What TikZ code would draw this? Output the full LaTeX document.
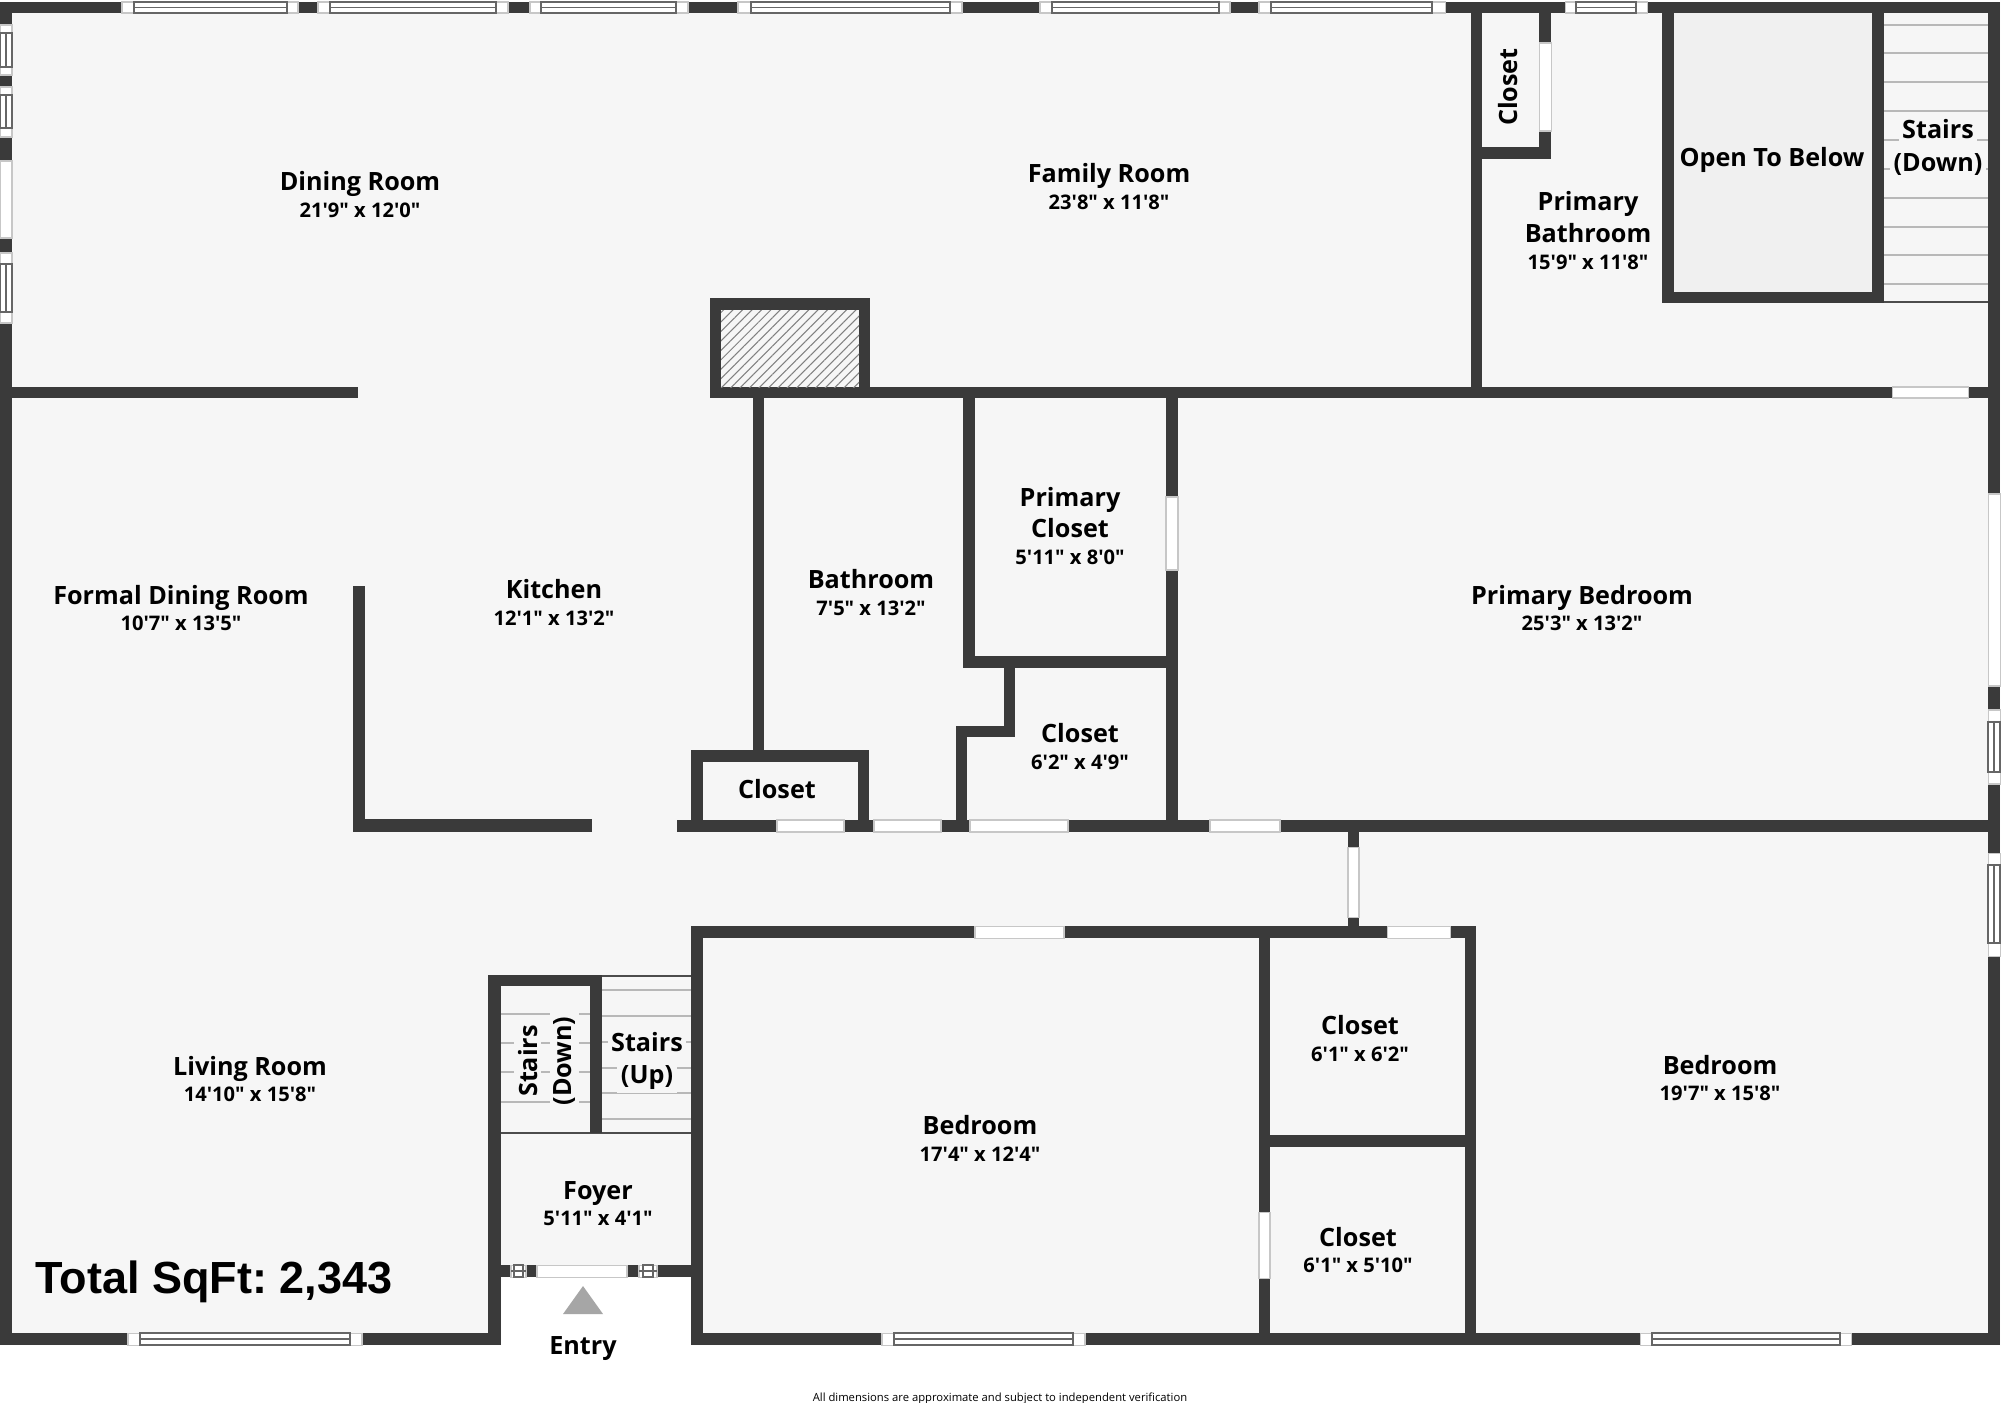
\documentclass[tikz,border=0pt]{standalone}
\usepackage{fontspec}
\newfontfamily\labelfont{Open Sans}
\newfontfamily\totalfont{Liberation Sans}
\usetikzlibrary{patterns.meta}
\definecolor{wallgray}{HTML}{3A3A3A}
\definecolor{floorgray}{HTML}{F6F6F6}
\definecolor{voidgray}{HTML}{F0F0F0}
\definecolor{treadgray}{HTML}{B8B8B8}
\tikzset{
  wall/.style={fill=wallgray},
  opening/.style={fill=white, draw=black!22, line width=0.3pt},
  sash/.style={draw=black!60, line width=0.4pt},
  tread/.style={draw=treadgray, line width=0.45pt},
  roomname/.style={anchor=base, inner sep=0pt, font=\labelfont\bfseries\fontsize{7.16}{9}\selectfont},
  roomsize/.style={anchor=base, inner sep=0pt, font=\labelfont\bfseries\fontsize{5.72}{7}\selectfont},
  stairname/.style={roomname, fill=floorgray, inner sep=1pt}
}
\begin{document}
\begin{tikzpicture}[x=0.01cm, y=-0.01cm]
\useasboundingbox (0,0) rectangle (2001,1402);
\fill[white] (0,0) rectangle (2001,1402);
\fill[floorgray] (0,2) -- (2000,2) -- (2000,1345) -- (691,1345) -- (691,1277) -- (501,1277) -- (501,1345) -- (0,1345) -- cycle;
\fill[voidgray] (1674,13) rectangle (1872,292);
\draw[tread] (1884,25) -- (1988,25);
\draw[tread] (1884,53) -- (1988,53);
\draw[tread] (1884,82) -- (1988,82);
\draw[tread] (1884,111) -- (1988,111);
\draw[tread] (1884,140) -- (1988,140);
\draw[tread] (1884,169) -- (1988,169);
\draw[tread] (1884,198) -- (1988,198);
\draw[tread] (1884,227) -- (1988,227);
\draw[tread] (1884,255) -- (1988,255);
\draw[tread] (1884,284) -- (1988,284);
\draw[draw=black!70, line width=0.4pt] (1884,302) -- (1988,302);
\draw[tread] (501,1014) -- (590,1014);
\draw[tread] (501,1043) -- (590,1043);
\draw[tread] (501,1072) -- (590,1072);
\draw[tread] (501,1102) -- (590,1102);
\draw[tread] (602,990) -- (691,990);
\draw[tread] (602,1016) -- (691,1016);
\draw[tread] (602,1042) -- (691,1042);
\draw[tread] (602,1068) -- (691,1068);
\draw[tread] (602,1093) -- (691,1093);
\draw[tread] (602,1119) -- (691,1119);
\draw[draw=black!70, line width=0.4pt] (602,976) -- (691,976);
\draw[draw=black!70, line width=0.6pt] (501,1133) -- (691,1133);
\fill[wall] (0,2) rectangle (2000,13);
\fill[wall] (0,2) rectangle (12,1345);
\fill[wall] (1988,2) rectangle (2000,1345);
\fill[wall] (0,1333) rectangle (501,1345);
\fill[wall] (691,1333) rectangle (2000,1345);
\fill[wall] (12,387) rectangle (358,398);
\fill[wall] (710,387) rectangle (2000,398);
\fill[wall] (710,298) rectangle (870,398);
\fill[floorgray] (721,310) rectangle (859,387);
\fill[pattern={Lines[angle=45, distance=1.9pt, line width=0.3pt]}, pattern color=black!50] (721,310) rectangle (859,387);
\fill[wall] (353,586) rectangle (365,832);
\fill[wall] (353,819) rectangle (592,832);
\fill[wall] (677,820) rectangle (2000,832);
\fill[wall] (753,398) rectangle (764,750);
\fill[wall] (691,750) rectangle (869,762);
\fill[wall] (691,750) rectangle (703,832);
\fill[wall] (858,750) rectangle (869,832);
\fill[wall] (963,398) rectangle (975,668);
\fill[wall] (963,656) rectangle (1178,668);
\fill[wall] (1166,398) rectangle (1178,832);
\fill[wall] (1004,668) rectangle (1015,737);
\fill[wall] (956,726) rectangle (1015,737);
\fill[wall] (956,726) rectangle (967,832);
\fill[wall] (1471,2) rectangle (1482,398);
\fill[wall] (1471,147) rectangle (1551,159);
\fill[wall] (1539,2) rectangle (1551,159);
\fill[wall] (1662,2) rectangle (1674,303);
\fill[wall] (1662,292) rectangle (1884,303);
\fill[wall] (1872,2) rectangle (1884,303);
\fill[wall] (691,926) rectangle (1476,938);
\fill[wall] (691,926) rectangle (703,1345);
\fill[wall] (1259,926) rectangle (1270,1345);
\fill[wall] (1465,926) rectangle (1476,1345);
\fill[wall] (1259,1135) rectangle (1476,1147);
\fill[wall] (1348,832) rectangle (1359,926);
\fill[wall] (488,975) rectangle (501,1345);
\fill[wall] (488,975) rectangle (602,986);
\fill[wall] (590,975) rectangle (602,1133);
\fill[wall] (488,1265) rectangle (703,1277);
\filldraw[opening] (122,2) rectangle (298,13);
\draw[sash] (134,2) rectangle (287,13) (134,7.5) -- (287,7.5);
\filldraw[opening] (318,2) rectangle (508,13);
\draw[sash] (330,2) rectangle (496,13) (330,7.5) -- (496,7.5);
\filldraw[opening] (530,2) rectangle (688,13);
\draw[sash] (541,2) rectangle (676,13) (541,7.5) -- (676,7.5);
\filldraw[opening] (738,2) rectangle (962,13);
\draw[sash] (751,2) rectangle (950,13) (751,7.5) -- (950,7.5);
\filldraw[opening] (1040,2) rectangle (1230,13);
\draw[sash] (1052,2) rectangle (1219,13) (1052,7.5) -- (1219,7.5);
\filldraw[opening] (1259,2) rectangle (1445,13);
\draw[sash] (1271,2) rectangle (1432,13) (1271,7.5) -- (1432,7.5);
\filldraw[opening] (1565,2) rectangle (1647,13);
\draw[sash] (1576,2) rectangle (1636,13) (1576,7.5) -- (1636,7.5);
\filldraw[opening] (128,1333) rectangle (362,1345);
\draw[sash] (140,1333) rectangle (350,1345) (140,1339) -- (350,1339);
\filldraw[opening] (882,1333) rectangle (1085,1345);
\draw[sash] (894,1333) rectangle (1073,1345) (894,1339) -- (1073,1339);
\filldraw[opening] (1640,1333) rectangle (1851,1345);
\draw[sash] (1652,1333) rectangle (1840,1345) (1652,1339) -- (1840,1339);
\filldraw[opening] (0,25) rectangle (12,75);
\draw[sash] (0,33) rectangle (12,67) (6,33) -- (6,67);
\filldraw[opening] (0,87) rectangle (12,137);
\draw[sash] (0,95) rectangle (12,128) (6,95) -- (6,128);
\filldraw[opening] (0,253) rectangle (12,323);
\draw[sash] (0,264) rectangle (12,312) (6,264) -- (6,312);
\filldraw[opening] (1988,710) rectangle (2000,784);
\draw[sash] (1988,722) rectangle (2000,772) (1994,722) -- (1994,772);
\filldraw[opening] (1988,853) rectangle (2000,956);
\draw[sash] (1988,865) rectangle (2000,943) (1994,865) -- (1994,943);
\filldraw[opening] (0,161) rectangle (12,238);
\filldraw[opening] (1988,494) rectangle (2000,686);
\filldraw[opening] (1539,43) rectangle (1551,131);
\filldraw[opening] (1892,387) rectangle (1968,398);
\filldraw[opening] (1166,497) rectangle (1178,570);
\filldraw[opening] (777,820) rectangle (844,832);
\filldraw[opening] (874,820) rectangle (941,832);
\filldraw[opening] (970,820) rectangle (1068,832);
\filldraw[opening] (1210,820) rectangle (1280,832);
\filldraw[opening] (975,926) rectangle (1064,938);
\filldraw[opening] (1387,926) rectangle (1450,938);
\filldraw[opening] (1348,847) rectangle (1359,917);
\filldraw[opening] (1259,1212) rectangle (1270,1278);
\filldraw[opening] (537,1265) rectangle (627,1277);
\filldraw[opening] (511,1265) rectangle (526,1277);
\draw[sash] (514,1265) rectangle (523,1277) (511,1271) -- (526,1271);
\filldraw[opening] (639,1265) rectangle (657,1277);
\draw[sash] (643,1265) rectangle (653,1277) (639,1271) -- (657,1271);
\fill[black!35] (583,1286) -- (603,1314) -- (563,1314) -- cycle;
\node[roomname] (dining) at (360,190) {Dining Room};
\node[roomsize] (diningsize) at (360,217) {21'9" x 12'0"};
\node[roomname] (family) at (1109,182) {Family Room};
\node[roomsize] (familysize) at (1109,209) {23'8" x 11'8"};
\node[roomname, rotate=90] (upcloset) at (1517,87) {Closet};
\node[roomname] (primarybath) at (1588,210) {Primary};
\node[roomname] (primarybathb) at (1588,242) {Bathroom};
\node[roomsize] (primarybathsize) at (1588,269) {15'9" x 11'8"};
\node[roomname] (openbelow) at (1772,166) {Open To Below};
\node[stairname] (stairsdown) at (1938,138) {Stairs};
\node[stairname] (stairsdownb) at (1938,171) {(Down)};
\node[roomname] (formal) at (181,604) {Formal Dining Room};
\node[roomsize] (formalsize) at (181,630) {10'7" x 13'5"};
\node[roomname] (kitchen) at (554,598) {Kitchen};
\node[roomsize] (kitchensize) at (554,625) {12'1" x 13'2"};
\node[roomname] (bath) at (871,588) {Bathroom};
\node[roomsize] (bathsize) at (871,615) {7'5" x 13'2"};
\node[roomname] (primarycloset) at (1070,506) {Primary};
\node[roomname] (primaryclosetb) at (1070,537) {Closet};
\node[roomsize] (primaryclosetsize) at (1070,564) {5'11" x 8'0"};
\node[roomname] (midcloset) at (1080,742) {Closet};
\node[roomsize] (midclosetsize) at (1080,769) {6'2" x 4'9"};
\node[roomname] (bathcloset) at (777,798) {Closet};
\node[roomname] (primarybed) at (1582,604) {Primary Bedroom};
\node[roomsize] (primarybedsize) at (1582,630) {25'3" x 13'2"};
\node[roomname] (living) at (250,1075) {Living Room};
\node[roomsize] (livingsize) at (250,1101) {14'10" x 15'8"};
\node[stairname, rotate=90] (lowdown) at (537,1061) {Stairs};
\node[stairname, rotate=90] (lowdownb) at (571,1061) {(Down)};
\node[stairname] (stairsup) at (647,1051) {Stairs};
\node[stairname] (stairsupb) at (647,1083) {(Up)};
\node[roomname] (foyer) at (598,1199) {Foyer};
\node[roomsize] (foyersize) at (598,1225) {5'11" x 4'1"};
\node[roomname] (entry) at (583,1354) {Entry};
\node[roomname] (bedfront) at (980,1134) {Bedroom};
\node[roomsize] (bedfrontsize) at (980,1161) {17'4" x 12'4"};
\node[roomname] (upclosetb) at (1360,1034) {Closet};
\node[roomsize] (upclosetbsize) at (1360,1061) {6'1" x 6'2"};
\node[roomname] (lowcloset) at (1358,1246) {Closet};
\node[roomsize] (lowclosetsize) at (1358,1272) {6'1" x 5'10"};
\node[roomname] (bedrear) at (1720,1074) {Bedroom};
\node[roomsize] (bedrearsize) at (1720,1100) {19'7" x 15'8"};
\node[anchor=base west, inner sep=0pt, font=\totalfont\bfseries\frenchspacing\fontsize{12.8}{14}\selectfont] (total) at (35,1293) {Total SqFt: 2,343};
\node[anchor=base, inner sep=0pt, font=\labelfont\fontsize{3.2}{4}\selectfont] (note) at (1000,1401) {All dimensions are approximate and subject to independent verification};
\end{tikzpicture}
\end{document}
